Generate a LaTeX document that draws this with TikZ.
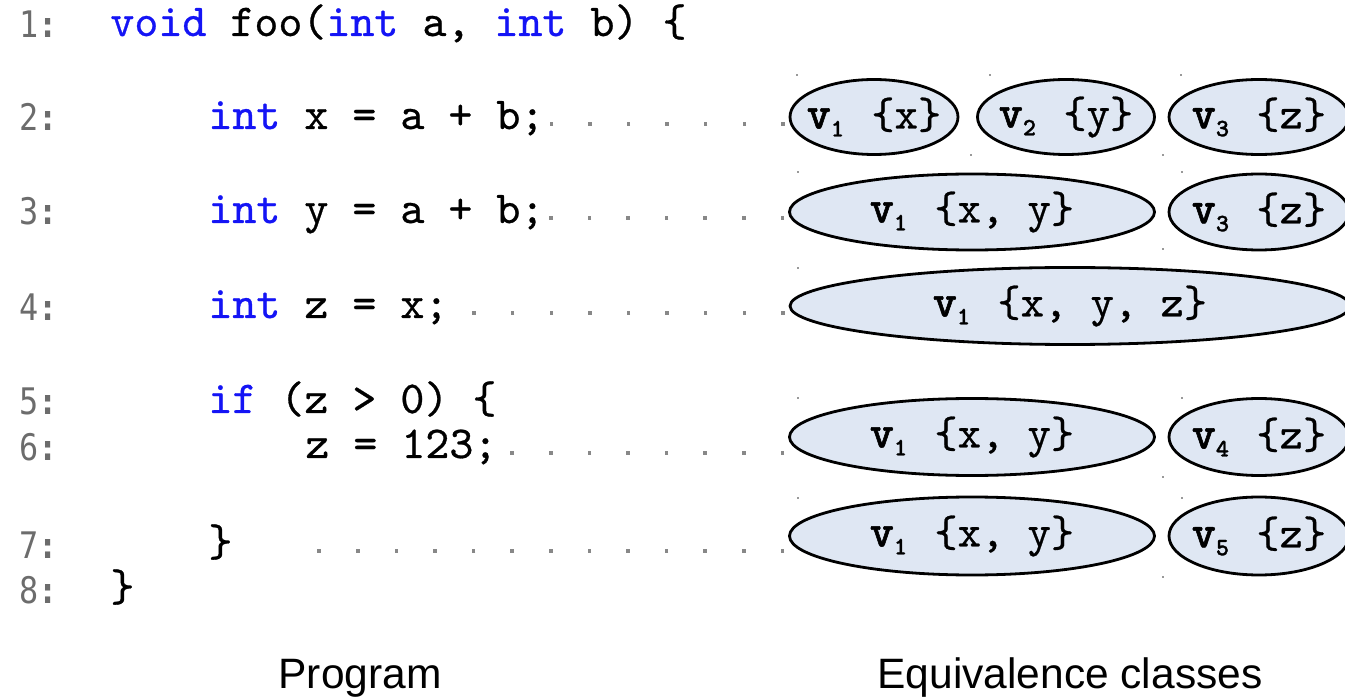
\documentclass[tikz,border=0pt]{standalone}
\usepackage{fontspec}
\setmainfont{Liberation Sans}
\newfontfamily\lnfont[FakeStretch=0.87]{DejaVu Sans Mono}
\newfontfamily\codefont[FakeBold=0.6]{lmmono10-regular.otf}
\newfontfamily\vfont[FakeBold=1.2]{lmmonolt10-bold.otf}
\usetikzlibrary{shapes.geometric,calc}
\definecolor{kwblue}{RGB}{20,20,245}
\definecolor{ellfill}{RGB}{223,231,243}
\definecolor{lngray}{RGB}{108,108,108}
\definecolor{dotgray}{RGB}{136,136,136}
\newcommand\kw[1]{\textcolor{kwblue}{#1}}
\newcommand\vsub[1]{{\vfont\fontsize{23}{24}\selectfont v}\raisebox{-4pt}{\vfont\fontsize{12.5}{12.5}\selectfont #1}\hspace{2pt}}
\tikzset{
  code/.style={font=\codefont\fontsize{22.86}{26}\selectfont, anchor=base west, inner sep=0pt},
  lineno/.style={font=\lnfont\fontsize{18.3}{20}\selectfont, text=lngray, anchor=base west, inner sep=0pt},
  eqc/.style={ellipse, draw=black, line width=1.4pt, fill=ellfill, inner xsep=-20pt, inner ysep=0pt,
    font=\codefont\fontsize{22.2}{24}\selectfont},
  leader/.style={draw=dotgray, line width=1.75pt, dash pattern=on 1.75pt off 17.55pt},
  caption/.style={font=\fontsize{21.25}{25}\selectfont, anchor=base, inner sep=0pt},
  speck/.style={fill=black!40}
}
\begin{document}
\begin{tikzpicture}[x=0.5pt,y=-0.5pt]
\useasboundingbox (0,0) rectangle (1345,700);
\clip (0,0) rectangle (1345,700);

% line numbers
\foreach \n/\y in {1/38,2/131,3/225,4/321,5/415,6/460,7/558,8/603}
  \node[lineno] (n\n) at (19,\y) {\n\textbf{:}};

% code
\node[code] (c1) at (110,36)  {\kw{void} foo(\kw{int} a, \kw{int} b) \{};
\node[code] (c2) at (208,129) {\kw{int} x = a + b;};
\node[code] (c3) at (208,223) {\kw{int} y = a + b;};
\node[code] (c4) at (208,318) {\kw{int} z = x;};
\node[code] (c5) at (208,413) {\kw{if} (z > 0) \{};
\node[code] (c6) at (305,458) {z = 123;};
\node[code] (c7) at (208,556) {\}};
\node[code] (c8) at (110,601) {\}};
\coordinate (l7) at (300,551);

% equivalence classes
\node[eqc, minimum width=84pt, minimum height=37.5pt] (e21) at (874,117) {\vsub{1}~\{x\}};
\node[eqc, minimum width=88.5pt, minimum height=37.5pt] (e22) at (1066,117) {\vsub{2}~\{y\}};
\node[eqc, minimum width=90pt, minimum height=37.5pt] (e23) at (1259,117) {\vsub{3}~\{z\}};

\node[eqc, minimum width=182.5pt, minimum height=38pt] (e31) at (972,212) {\vsub{1}~\{x, y\}};
\node[eqc, minimum width=90pt, minimum height=38pt] (e32) at (1259,212) {\vsub{3}~\{z\}};

\node[eqc, minimum width=280pt, minimum height=38.5pt] (e41) at (1070,306) {\vsub{1}~\{x, y, z\}};

\node[eqc, minimum width=182.5pt, minimum height=38.5pt] (e61) at (972,437) {\vsub{1}~\{x, y\}};
\node[eqc, minimum width=90pt, minimum height=38.5pt] (e62) at (1259,437) {\vsub{4}~\{z\}};

\node[eqc, minimum width=182.5pt, minimum height=39pt] (e71) at (972,536) {\vsub{1}~\{x, y\}};
\node[eqc, minimum width=90pt, minimum height=39pt] (e72) at (1259,536) {\vsub{5}~\{z\}};

% leaders
\draw[leader] ($(e21.west |- c2.base east)+(-4,-5)$) -- ($(c2.base east)+(0,-5)$);
\draw[leader] ($(e31.west |- c3.base east)+(-4,-5)$) -- ($(c3.base east)+(0,-5)$);
\draw[leader] ($(e41.west |- c4.base east)+(-4,-5)$) -- ($(c4.base east)+(0,-5)$);
\draw[leader] ($(e61.west |- c6.base east)+(-4,-5)$) -- ($(c6.base east)+(0,-5)$);
\draw[leader] ($(e71.west |- l7)+(-4,0)$) -- (l7);

% small specks
\foreach \p in {(797,75),(990,75),(1181,75),(971,155),(1163,155),
                (798,172),(1182,172),(1163,249),
                (798,268),
                (798,398),(1182,398),(1163,477),
                (798,498),(1182,498),(1163,577)}
  \fill[speck] \p ++(-1,-1) rectangle ++(2,2);

% captions
\node[caption] (cap1) at (360,688) {Program};
\node[caption] (cap2) at (1070,688) {Equivalence classes};
\end{tikzpicture}
\end{document}
